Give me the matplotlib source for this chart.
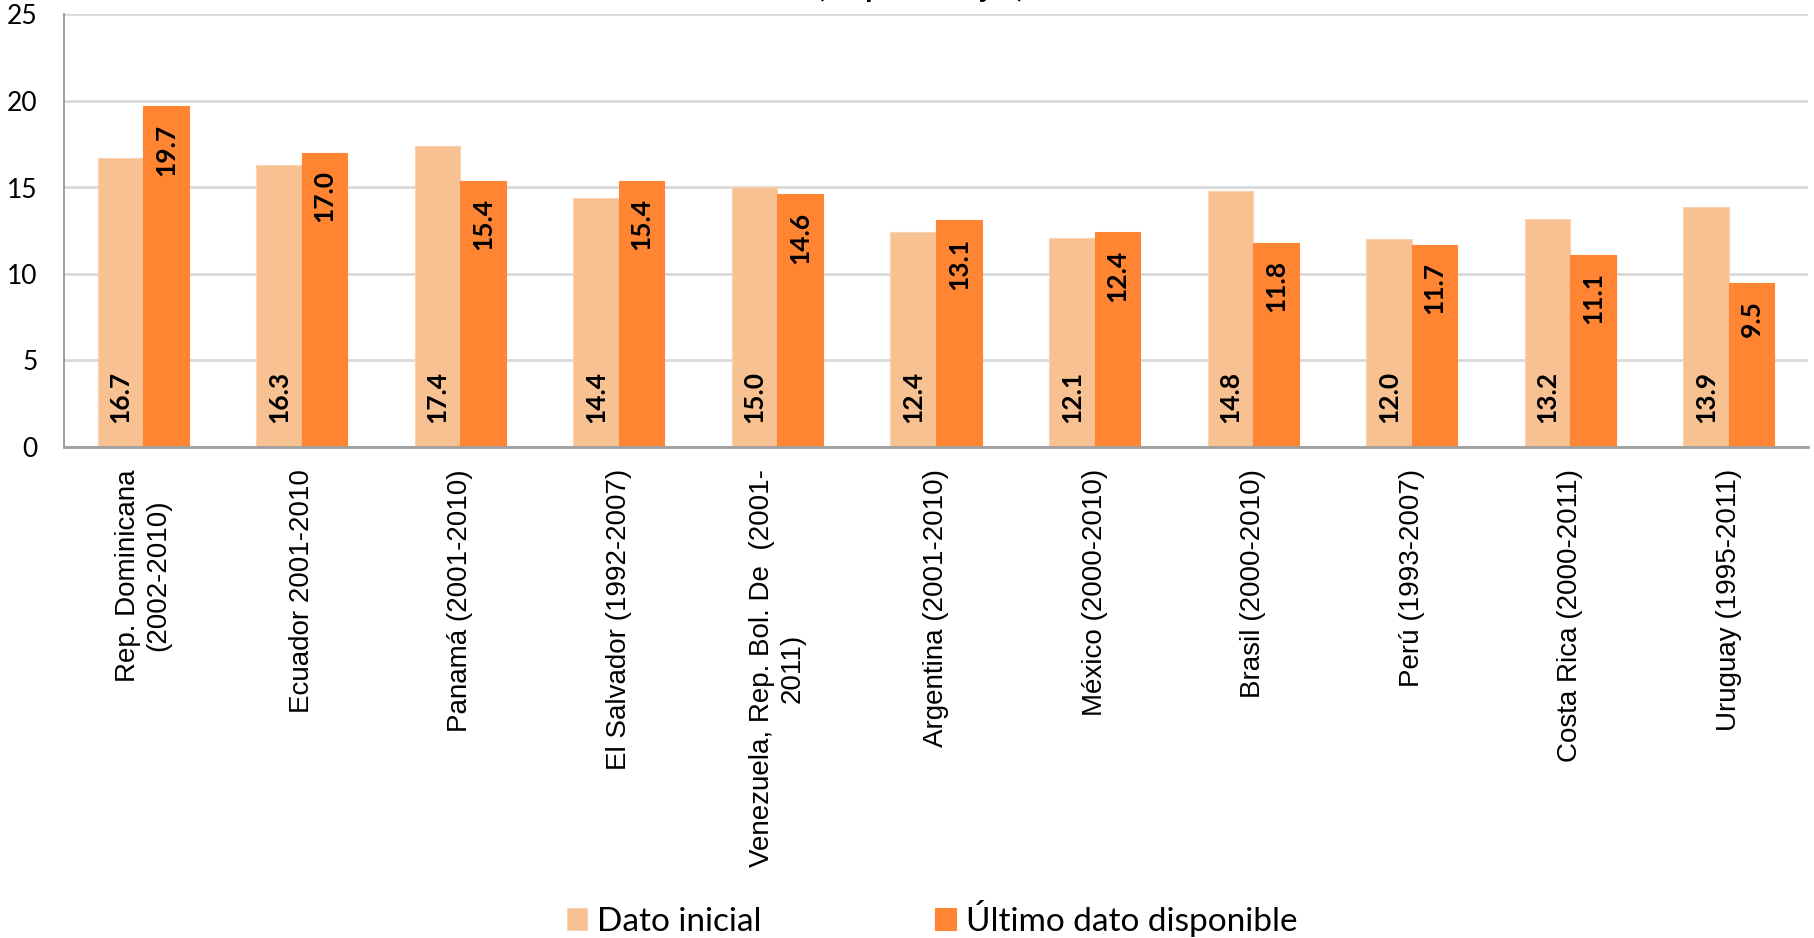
import matplotlib
matplotlib.use("Agg")
import matplotlib.pyplot as plt
import numpy as np

categories = [
    "Rep. Dominicana\n(2002-2010)",
    "Ecuador 2001-2010",
    "Panamá (2001-2010)",
    "El Salvador (1992-2007)",
    "Venezuela, Rep. Bol. De  (2001-\n2011)",
    "Argentina (2001-2010)",
    "México (2000-2010)",
    "Brasil (2000-2010)",
    "Perú (1993-2007)",
    "Costa Rica (2000-2011)",
    "Uruguay (1995-2011)",
]
dato_inicial = [16.7, 16.3, 17.4, 14.4, 15.0, 12.4, 12.1, 14.8, 12.0, 13.2, 13.9]
ultimo_dato = [19.7, 17.0, 15.4, 15.4, 14.6, 13.1, 12.4, 11.8, 11.7, 11.1, 9.5]
series_names = ["Dato inicial", "Último dato disponible"]
yticks = [0, 5, 10, 15, 20, 25]
title = "(En porcentajes)"

c_light = "#F8C191"
c_dark = "#FF8533"
calibri_like = ["Lato", "DejaVu Sans"]

W, H, DPI = 1814, 938, 100
fig = plt.figure(figsize=(W / DPI, H / DPI), dpi=DPI)
ax = fig.add_axes([64 / W, 1 - 447 / H, (1808 - 64) / W, (447 - 14.5) / H])

x = np.arange(len(categories))
bw = 0.287
b1 = ax.bar(x - bw / 2, dato_inicial, bw, color=c_light, edgecolor="#FBD3B0",
            linewidth=0.8, label=series_names[0], zorder=3)
b2 = ax.bar(x + bw / 2, ultimo_dato, bw, color=c_dark, edgecolor=c_dark,
            linewidth=0.8, label=series_names[1], zorder=3)

for xi, v in zip(x, dato_inicial):
    ax.text(xi - bw / 2, 1.4, f"{v:.1f}", rotation=90, ha="center", va="bottom",
            fontsize=19, fontweight="bold", family=calibri_like, zorder=4)
for xi, v in zip(x, ultimo_dato):
    ax.text(xi + bw / 2, v - 1.0, f"{v:.1f}", rotation=90, ha="center", va="top",
            fontsize=19, fontweight="bold", family=calibri_like, zorder=4)

ax.set_xlim(-0.5, len(categories) - 0.5)
ax.set_ylim(0, 25)
ax.set_yticks(yticks)
ax.set_yticklabels([str(t) for t in yticks], family=calibri_like, fontsize=19)
ax.set_xticks(x)
ax.set_xticklabels(categories, rotation=90, ha="center", va="top",
                   multialignment="center", family=["Liberation Sans", "DejaVu Sans"],
                   fontsize=20)
ax.tick_params(axis="both", length=0)
ax.tick_params(axis="x", pad=16)
ax.tick_params(axis="y", pad=19)

ax.grid(axis="y", color="#D9D9D9", linewidth=2, zorder=0)
for s in ["top", "right"]:
    ax.spines[s].set_visible(False)
ax.spines["left"].set_color("#8C8C8C")
ax.spines["left"].set_linewidth(1.2)
ax.spines["bottom"].set_color("#A0A0A0")
ax.spines["bottom"].set_linewidth(2)
ax.spines["bottom"].set_zorder(5)

# Title sits mostly above the canvas in the reference: only descenders show
fig.text(921 / W, 1 + 2.5 / H, title, ha="center", va="baseline",
         fontsize=21, fontweight="bold", family=calibri_like)

leg = fig.legend(handles=[b1, b2], labels=series_names, loc="center",
                 bbox_to_anchor=(932 / W, 1 - 918 / H), ncol=2, frameon=False,
                 prop={"family": calibri_like, "size": 24},
                 handlelength=0.62, handleheight=0.62, handletextpad=0.3,
                 columnspacing=5.2, borderpad=0)

fig.savefig("out.png", dpi=DPI)
